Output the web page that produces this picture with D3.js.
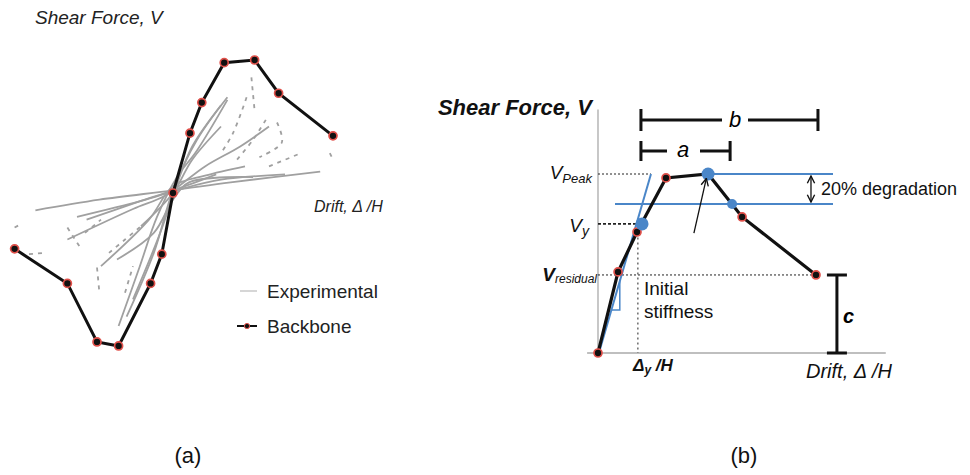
<!DOCTYPE html>
<html>
<head>
<meta charset="utf-8">
<script src="https://cdn.jsdelivr.net/npm/d3@7"></script>
<style>
  body { margin: 0; background: #fff; }
  text { font-family: "Liberation Sans", Arial, sans-serif; }
</style>
</head>
<body>
<div id="chart"></div>
<script>
// ---- panel (a): hysteresis with backbone, [drift, shear] (normalised) ----
var backboneA = [[-0.99,-0.42],[-0.66,-0.68],[-0.475,-1.12],[-0.34,-1.15],[-0.14,-0.68],[-0.07,-0.46],
                 [0,0],[0.106,0.45],[0.18,0.68],[0.32,0.98],[0.51,1.0],[0.66,0.75],[1.0,0.43]];

var expSolid = [
  [[-0.86,-0.13],[-0.46,-0.05],[0,0.02],[0.36,0.08],[0.92,0.16]],
  [[-0.29,-0.93],[-0.12,-0.45],[0,0.02],[0.15,0.4],[0.34,0.72]],
  [[-0.34,-1.0],[-0.21,-0.56],[-0.1,-0.18],[0.025,0.12],[0.15,0.32],[0.34,0.70]],
  [[-0.54,-0.2],[-0.25,-0.08],[0,0.02],[0.14,0.08],[0.27,0.14]],
  [[-0.66,-0.35],[-0.25,-0.12],[-0.05,-0.02],[0.2,0.2],[0.42,0.35],[0.6,0.5]],
  [[-0.2,-0.25],[0,0.0],[0.12,0.25],[0.3,0.5]],
  [[-0.45,-0.55],[-0.15,-0.2],[0,0.05],[0.2,0.13],[0.45,0.2]],
  [[-0.35,-0.5],[-0.12,-0.3],[0,-0.05],[0.1,0.08],[0.5,0.12]],
  [[-0.25,-0.8],[-0.08,-0.3],[0.02,0.05],[0.12,0.35],[0.3,0.66]],
  [[-0.6,-0.18],[-0.2,-0.06],[0.05,0.03],[0.3,0.1],[0.7,0.14]]
];
var expDashed = [
  [[0.49,0.87],[0.51,0.62]],
  [[0.46,0.72],[0.375,0.45],[0.3,0.3]],
  [[0.65,0.53],[0.68,0.38],[0.54,0.27]],
  [[0.98,0.30],[1.0,0.25]],
  [[0.58,0.55],[0.5,0.4],[0.4,0.25]],
  [[0.6,0.2],[0.8,0.3]],
  [[-0.99,-0.26],[-0.96,-0.24]],
  [[-0.9,-0.46],[-0.8,-0.45]],
  [[-0.66,-0.26],[-0.58,-0.41]],
  [[-0.475,-0.56],[-0.46,-0.75]],
  [[-0.4,-0.45],[-0.3,-0.35],[-0.2,-0.25]],
  [[-0.3,-0.75],[-0.25,-0.55]],
  [[-0.55,-0.3],[-0.45,-0.2]]
];
var legendItems = ["Experimental", "Backbone"];

// ---- panel (b): idealised backbone, [drift, shear] (V/Vpeak) ----
var backboneB = [[0,0],[0.092,0.453],[0.179,0.676],[0.312,0.978],[0.505,1.0],[0.661,0.76],[1.0,0.436]];
var keyPoints = [[0.202,0.721],[0.505,1.0],[0.615,0.832]];   // yield, peak, 20% degradation
var stiffness = [[0,-0.017],[0.243,1.0]];
var vPeak = 1.0, vYield = 0.721, vResidual = 0.436, vDegraded = 0.832;
var yieldDrift = 0.183;
var spanA = [0.197, 0.606], spanB = [0.197, 1.009], cDrift = 1.096;
var captions = ["(a)", "(b)"];

var svg = d3.select("#chart").append("svg")
  .attr("width", 970).attr("height", 475);

var defs = svg.append("defs");
defs.append("marker")
  .attr("id", "head").attr("viewBox", "0 0 10 10")
  .attr("refX", 9).attr("refY", 5)
  .attr("markerWidth", 7).attr("markerHeight", 7)
  .attr("orient", "auto-start-reverse")
  .append("path").attr("d", "M1,1 L9,5 L1,9")
  .attr("fill", "none").attr("stroke", "#111").attr("stroke-width", 1.5);

var blue = "#4a86c8", red = "#e0504a";

// ===== panel (a) =====
var xA = d3.scaleLinear().domain([-1, 1]).range([13, 333]);
var yA = d3.scaleLinear().domain([-1, 1]).range([326, 60]);
var lineA = d3.line().x(function(d){ return xA(d[0]); }).y(function(d){ return yA(d[1]); })
  .curve(d3.curveCatmullRom);

var gA = svg.append("g");
gA.selectAll(".exp").data(expSolid).enter().append("path")
  .attr("d", lineA).attr("fill", "none")
  .attr("stroke", "#a0a0a0").attr("stroke-width", 1.8);
gA.selectAll(".expd").data(expDashed).enter().append("path")
  .attr("d", lineA).attr("fill", "none")
  .attr("stroke", "#a0a0a0").attr("stroke-width", 1.8)
  .attr("stroke-dasharray", "4,5");

gA.append("path").datum(backboneA)
  .attr("d", d3.line().x(function(d){ return xA(d[0]); }).y(function(d){ return yA(d[1]); }))
  .attr("fill", "none").attr("stroke", "#111").attr("stroke-width", 3);
gA.selectAll(".bbA").data(backboneA).enter().append("circle")
  .attr("cx", function(d){ return xA(d[0]); }).attr("cy", function(d){ return yA(d[1]); })
  .attr("r", 4).attr("fill", "#111").attr("stroke", red).attr("stroke-width", 1.7);

gA.append("text").attr("x", 35).attr("y", 24)
  .attr("font-size", 19).attr("font-style", "italic").attr("fill", "#222")
  .text("Shear Force, V");
gA.append("text").attr("x", 314).attr("y", 212)
  .attr("font-size", 16).attr("font-style", "italic").attr("fill", "#222")
  .text("Drift, \u0394 /H");

// legend
var leg = gA.append("g");
leg.append("line").attr("x1", 240).attr("x2", 257).attr("y1", 291).attr("y2", 291)
  .attr("stroke", "#c8c8c8").attr("stroke-width", 1.5);
leg.append("line").attr("x1", 237).attr("x2", 257).attr("y1", 326).attr("y2", 326)
  .attr("stroke", "#111").attr("stroke-width", 2);
leg.append("circle").attr("cx", 247).attr("cy", 326).attr("r", 2.6)
  .attr("fill", "#111").attr("stroke", red).attr("stroke-width", 1);
leg.selectAll("text").data(legendItems).enter().append("text")
  .attr("x", 267).attr("y", function(d, i){ return 298 + i * 35; })
  .attr("font-size", 19).attr("fill", "#222")
  .text(function(d){ return d; });

// ===== panel (b) =====
var xB = d3.scaleLinear().domain([0, 1]).range([598, 816]);
var yB = d3.scaleLinear().domain([0, 1]).range([353, 174]);
var lineB = d3.line().x(function(d){ return xB(d[0]); }).y(function(d){ return yB(d[1]); });
var gB = svg.append("g");

// axes
gB.append("line").attr("x1", xB(0)).attr("x2", xB(0)).attr("y1", yB(0)).attr("y2", yB(1.36))
  .attr("stroke", "#aaa").attr("stroke-width", 1.3);
gB.append("line").attr("x1", xB(-0.05)).attr("x2", xB(1.32)).attr("y1", yB(0)).attr("y2", yB(0))
  .attr("stroke", "#aaa").attr("stroke-width", 1.3);

// reference dashed levels
gB.append("line").attr("x1", xB(0)).attr("x2", xB(stiffness[1][0])).attr("y1", yB(vPeak)).attr("y2", yB(vPeak))
  .attr("stroke", "#222").attr("stroke-width", 1).attr("stroke-dasharray", "2,2");
gB.append("line").attr("x1", xB(0)).attr("x2", xB(keyPoints[0][0])).attr("y1", yB(vYield)).attr("y2", yB(vYield))
  .attr("stroke", "#222").attr("stroke-width", 1.8).attr("stroke-dasharray", "3,2");
gB.append("line").attr("x1", xB(0)).attr("x2", xB(1)).attr("y1", yB(vResidual)).attr("y2", yB(vResidual))
  .attr("stroke", "#222").attr("stroke-width", 1).attr("stroke-dasharray", "2,2");
gB.append("line").attr("x1", xB(yieldDrift)).attr("x2", xB(yieldDrift)).attr("y1", yB(vYield - 0.02)).attr("y2", yB(0))
  .attr("stroke", "#222").attr("stroke-width", 1).attr("stroke-dasharray", "2,3");

// degradation band
gB.append("line").attr("x1", xB(0.505)).attr("x2", xB(1.078)).attr("y1", yB(vPeak)).attr("y2", yB(vPeak))
  .attr("stroke", blue).attr("stroke-width", 2);
gB.append("line").attr("x1", xB(0.078)).attr("x2", xB(1.078)).attr("y1", yB(vDegraded)).attr("y2", yB(vDegraded))
  .attr("stroke", blue).attr("stroke-width", 2);

// initial stiffness line + slope triangle
gB.append("path").datum(stiffness).attr("d", lineB)
  .attr("fill", "none").attr("stroke", blue).attr("stroke-width", 2);
gB.append("path")
  .attr("d", "M" + xB(0.06) + "," + yB(0.24) + "H" + xB(0.1) + "V" + yB(0.41))
  .attr("fill", "none").attr("stroke", blue).attr("stroke-width", 1.5);

// backbone
gB.append("path").datum(backboneB).attr("d", lineB)
  .attr("fill", "none").attr("stroke", "#111").attr("stroke-width", 3.2);
gB.selectAll(".bbB").data(backboneB).enter().append("circle")
  .attr("cx", function(d){ return xB(d[0]); }).attr("cy", function(d){ return yB(d[1]); })
  .attr("r", 4).attr("fill", "#111").attr("stroke", red).attr("stroke-width", 1.7);
gB.selectAll(".key").data(keyPoints).enter().append("circle")
  .attr("cx", function(d){ return xB(d[0]); }).attr("cy", function(d){ return yB(d[1]); })
  .attr("r", function(d, i){ return i === 2 ? 5 : 6.5; }).attr("fill", blue);

// arrows
gB.append("line").attr("x1", xB(0.44)).attr("y1", yB(0.67)).attr("x2", xB(0.497)).attr("y2", yB(0.975))
  .attr("stroke", "#111").attr("stroke-width", 1.3).attr("marker-end", "url(#head)");
gB.append("line").attr("x1", xB(0.977)).attr("x2", xB(0.977)).attr("y1", yB(vPeak) + 2).attr("y2", yB(vDegraded) - 2)
  .attr("stroke", "#111").attr("stroke-width", 1.3)
  .attr("marker-start", "url(#head)").attr("marker-end", "url(#head)");

// brackets a, b, c
function hBracket(x0, x1, y, gapL, gapR, cap) {
  gB.append("path")
    .attr("d", "M" + x0 + "," + y + "H" + gapL + "M" + gapR + "," + y + "H" + x1 +
               "M" + x0 + "," + (y - cap) + "V" + (y + cap) + "M" + x1 + "," + (y - cap) + "V" + (y + cap))
    .attr("fill", "none").attr("stroke", "#111").attr("stroke-width", 3);
}
hBracket(xB(spanB[0]), xB(spanB[1]), 120, 722, 748, 11);
hBracket(xB(spanA[0]), xB(spanA[1]), 151, 667, 700, 10);
gB.append("text").attr("x", 735).attr("y", 127).attr("text-anchor", "middle")
  .attr("font-family", "Liberation Serif, serif").attr("font-style", "italic").attr("font-size", 22).text("b");
gB.append("text").attr("x", 683).attr("y", 157).attr("text-anchor", "middle")
  .attr("font-family", "Liberation Serif, serif").attr("font-style", "italic").attr("font-size", 22).text("a");
gB.append("path")
  .attr("d", "M" + (xB(cDrift) - 10) + "," + yB(vResidual) + "H" + (xB(cDrift) + 10) +
             "M" + xB(cDrift) + "," + yB(vResidual) + "V" + yB(0) +
             "M" + (xB(cDrift) - 10) + "," + yB(0) + "H" + (xB(cDrift) + 10))
  .attr("fill", "none").attr("stroke", "#111").attr("stroke-width", 3);
gB.append("text").attr("x", xB(cDrift) + 6).attr("y", 323)
  .attr("font-size", 20).attr("font-style", "italic").attr("font-weight", "bold").text("c");

// labels
gB.append("text").attr("x", 592).attr("y", 115).attr("text-anchor", "end")
  .attr("font-size", 22).attr("font-style", "italic").attr("font-weight", "bold").attr("fill", "#111")
  .text("Shear Force, V");

var vp = gB.append("text").attr("x", 592).attr("y", yB(vPeak) + 5).attr("text-anchor", "end")
  .attr("font-style", "italic").attr("fill", "#111");
vp.append("tspan").attr("font-size", 19).text("V");
vp.append("tspan").attr("font-size", 13).attr("dy", 4).text("Peak");

var vy = gB.append("text").attr("x", 589).attr("y", yB(vYield) + 8).attr("text-anchor", "end")
  .attr("font-style", "italic").attr("fill", "#111");
vy.append("tspan").attr("font-size", 19).text("V");
vy.append("tspan").attr("font-size", 14).attr("dy", 4).text("y");

var vr = gB.append("text").attr("x", 597).attr("y", yB(vResidual) + 6).attr("text-anchor", "end")
  .attr("font-style", "italic").attr("fill", "#111");
vr.append("tspan").attr("font-size", 19).attr("font-weight", "bold").text("V");
vr.append("tspan").attr("font-size", 12).attr("dy", 2).text("residual");

var dy = gB.append("text").attr("x", 633).attr("y", 371)
  .attr("font-style", "italic").attr("font-weight", "bold").attr("fill", "#111");
dy.append("tspan").attr("font-size", 17).text("\u0394");
dy.append("tspan").attr("font-size", 12).attr("dy", 3).text("y");
dy.append("tspan").attr("font-size", 17).attr("dy", -3).text(" /H");

gB.append("text").attr("x", 806).attr("y", 378)
  .attr("font-size", 20).attr("font-style", "italic").attr("fill", "#111")
  .text("Drift, \u0394 /H");

gB.append("text").attr("x", 644).attr("y", 295).attr("font-size", 19).attr("fill", "#111").text("Initial");
gB.append("text").attr("x", 644).attr("y", 318).attr("font-size", 19).attr("fill", "#111").text("stiffness");
gB.append("text").attr("x", 821).attr("y", 195).attr("font-size", 18).attr("fill", "#111").text("20% degradation");

// captions
svg.selectAll(".cap").data(captions).enter().append("text")
  .attr("x", function(d, i){ return i === 0 ? 188 : 744; }).attr("y", 463)
  .attr("text-anchor", "middle")
  .attr("font-family", "Liberation Serif, serif").attr("font-size", 22).attr("fill", "#111")
  .text(function(d){ return d; });
</script>
</body>
</html>
